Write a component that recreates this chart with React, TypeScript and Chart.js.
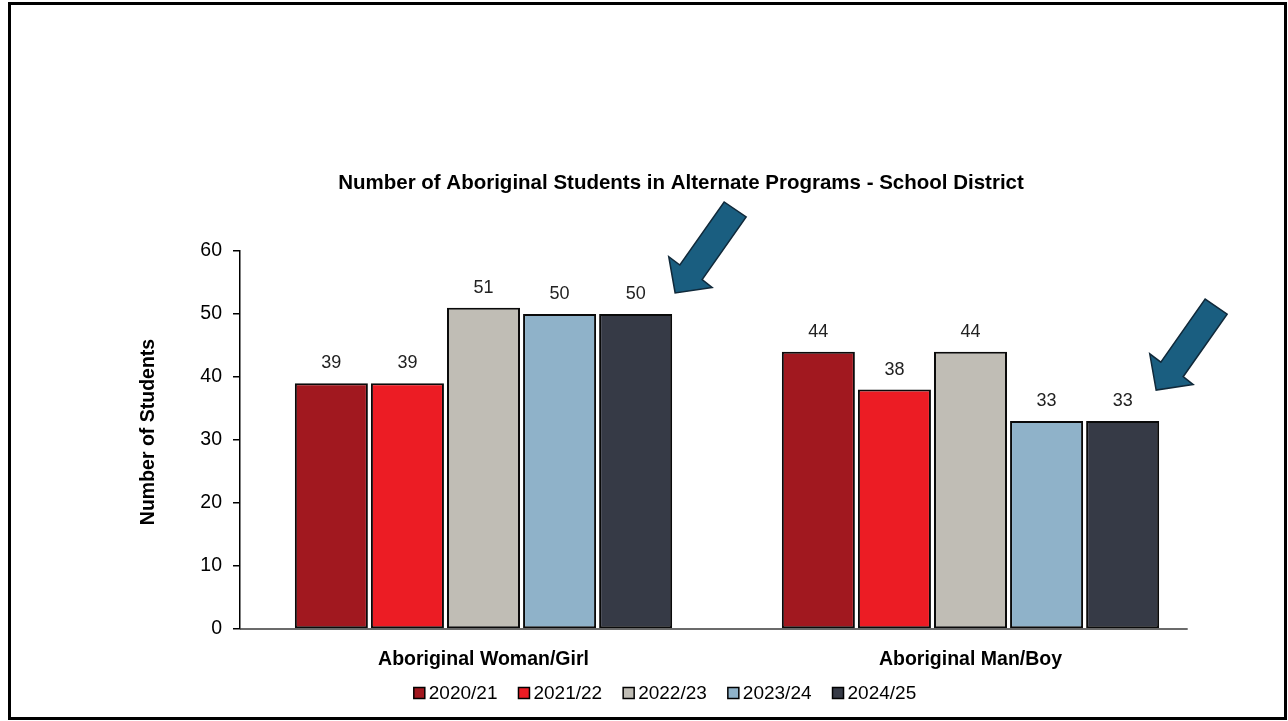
import React, { useEffect, useRef } from "react";
import { Chart, registerables } from "chart.js";

Chart.register(...registerables);

// ---------- data ----------
const categories = ["Aboriginal Woman/Girl", "Aboriginal Man/Boy"];
const seriesLabels = ["2020/21", "2021/22", "2022/23", "2023/24", "2024/25"];
const values2020 = [39, 44];
const values2021 = [39, 38];
const values2022 = [51, 44];
const values2023 = [50, 33];
const values2024 = [50, 33];
const seriesValues = [values2020, values2021, values2022, values2023, values2024];
const seriesColors = ["#a1181f", "#ec1c24", "#c0bdb5", "#8fb2c9", "#363a46"];
const yTicks = [0, 10, 20, 30, 40, 50, 60];
const chartTitle = "Number of Aboriginal Students in Alternate Programs - School District";
const yAxisTitle = "Number of Students";
// arrow anchors: offset of arrow tip from top-right corner of the last series' bar, per category
const arrowOffsets = [
  { dx: 3, dy: -21 },
  { dx: -3, dy: -31 },
];

const FONT = "'Liberation Sans', Arial, Helvetica, sans-serif";

// arrow outline relative to its tip
const ARROW_SHAPE: [number, number][] = [
  [0, 0],
  [-6.4, -36.3],
  [4.7, -28],
  [49, -91],
  [71, -76],
  [27, -13.4],
  [37, -5.5],
];

const decorPlugin = {
  id: "decor",
  beforeDraw(chart: any) {
    const ctx = chart.ctx as CanvasRenderingContext2D;
    ctx.save();
    ctx.fillStyle = "#ffffff";
    ctx.fillRect(0, 0, chart.width, chart.height);
    ctx.strokeStyle = "#000000";
    ctx.lineWidth = 3;
    ctx.strokeRect(9.5, 3.5, 1276, 715);
    ctx.restore();
  },
  afterDatasetsDraw(chart: any) {
    const ctx = chart.ctx as CanvasRenderingContext2D;
    const area = chart.chartArea;
    ctx.save();
    // x axis line
    ctx.strokeStyle = "#3a3a3a";
    ctx.lineWidth = 1.5;
    ctx.beginPath();
    ctx.moveTo(area.left, area.bottom);
    ctx.lineTo(area.left + (area.right - area.left) * 0.973, area.bottom);
    ctx.stroke();

    // data labels
    ctx.fillStyle = "#222222";
    ctx.font = `18px ${FONT}`;
    ctx.textAlign = "center";
    ctx.textBaseline = "middle";
    chart.data.datasets.forEach((ds: any, i: number) => {
      const meta = chart.getDatasetMeta(i);
      meta.data.forEach((bar: any, j: number) => {
        ctx.fillText(String(ds.data[j]), bar.x, bar.y - 20);
      });
    });
    ctx.restore();
  },
  afterDraw(chart: any) {
    const ctx = chart.ctx as CanvasRenderingContext2D;
    ctx.save();
    // chart title
    ctx.fillStyle = "#000000";
    ctx.font = `bold 20.5px ${FONT}`;
    ctx.textAlign = "center";
    ctx.textBaseline = "middle";
    ctx.fillText(chartTitle, 681, 183);

    // y axis title
    ctx.save();
    ctx.translate(149, 432);
    ctx.rotate(-Math.PI / 2);
    ctx.font = `bold 19.5px ${FONT}`;
    ctx.fillText(yAxisTitle, 0, 0);
    ctx.restore();

    // legend
    ctx.font = `19px ${FONT}`;
    ctx.textAlign = "left";
    const box = 11;
    const gapText = 4;
    const gapItem = 21;
    const widths = seriesLabels.map((l) => box + gapText + ctx.measureText(l).width);
    const total = widths.reduce((a, b) => a + b, 0) + gapItem * (widths.length - 1);
    let x = 665 - total / 2;
    const ly = 693;
    seriesLabels.forEach((label, i) => {
      ctx.fillStyle = seriesColors[i];
      ctx.fillRect(x, ly - box / 2, box, box);
      ctx.strokeStyle = "#000000";
      ctx.lineWidth = 1.5;
      ctx.strokeRect(x, ly - box / 2, box, box);
      ctx.fillStyle = "#000000";
      ctx.fillText(label, x + box + gapText, ly + 1);
      x += widths[i] + gapItem;
    });

    // arrows
    const lastMeta = chart.getDatasetMeta(chart.data.datasets.length - 1);
    lastMeta.data.forEach((bar: any, j: number) => {
      const off = arrowOffsets[j];
      if (!off) return;
      const tx = bar.x + bar.width / 2 + off.dx;
      const ty = bar.y + off.dy;
      ctx.beginPath();
      ARROW_SHAPE.forEach(([ax, ay], k) => {
        if (k === 0) ctx.moveTo(tx + ax, ty + ay);
        else ctx.lineTo(tx + ax, ty + ay);
      });
      ctx.closePath();
      ctx.fillStyle = "#1a5e80";
      ctx.fill();
      ctx.strokeStyle = "#10293a";
      ctx.lineWidth = 1.5;
      ctx.lineJoin = "miter";
      ctx.stroke();
    });
    ctx.restore();
  },
};

export default function App() {
  const canvasRef = useRef<HTMLCanvasElement | null>(null);

  useEffect(() => {
    if (!canvasRef.current) return;
    Chart.defaults.font.family = FONT;
    const chart = new Chart(canvasRef.current, {
      type: "bar",
      data: {
        labels: categories,
        datasets: seriesLabels.map((label, i) => ({
          label,
          data: seriesValues[i],
          backgroundColor: seriesColors[i],
          borderColor: "#0a0a0a",
          borderWidth: 2,
          borderSkipped: false,
          barPercentage: 0.96,
          categoryPercentage: 0.781,
        })),
      },
      options: {
        animation: false,
        responsive: false,
        devicePixelRatio: 1,
        layout: { padding: { left: 0, top: 251, right: 74, bottom: 52 } },
        plugins: {
          legend: { display: false },
          title: { display: false },
          tooltip: { enabled: false },
        },
        scales: {
          x: {
            type: "category",
            offset: true,
            ticks: {
              color: "#000000",
              font: { size: 19.5, weight: "bold" },
              padding: 19,
              maxRotation: 0,
              autoSkip: false,
            },
            grid: { display: false, drawTicks: false },
            border: { display: false },
            afterFit: (s: any) => {
              s.height = 40;
            },
          },
          y: {
            min: 0,
            max: 60,
            afterBuildTicks: (s: any) => {
              s.ticks = yTicks.map((v) => ({ value: v }));
            },
            ticks: { color: "#000000", font: { size: 19.5 }, padding: 11 },
            grid: {
              drawOnChartArea: false,
              drawTicks: true,
              tickLength: 7,
              color: "#000000",
              lineWidth: 1.5,
            },
            border: { display: true, color: "#000000", width: 1.5 },
            afterFit: (s: any) => {
              s.width = 240;
            },
          },
        },
      },
      plugins: [decorPlugin],
    } as any);
    return () => chart.destroy();
  }, []);

  return (
    <div style={{ position: "fixed", left: 0, top: 0, width: 1288, height: 721 }}>
      <canvas ref={canvasRef} width={1288} height={721} style={{ display: "block" }} />
    </div>
  );
}
